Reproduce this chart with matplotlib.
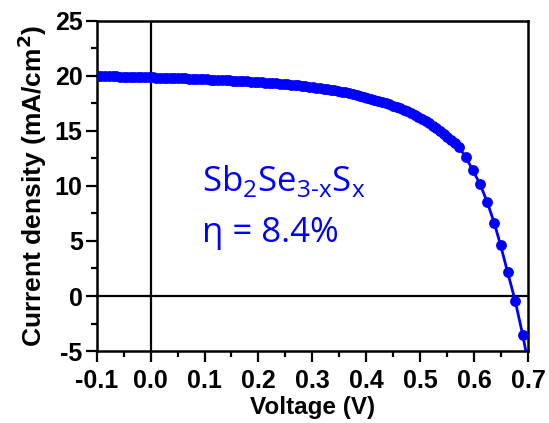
import numpy as np
import matplotlib
matplotlib.use("Agg")
import matplotlib.pyplot as plt
from matplotlib.ticker import MultipleLocator

# J-V sweep of the Sb2Se3-xSx device (dense steps up to the knee)
voltage = [-0.104, -0.097, -0.091, -0.084, -0.077, -0.070, -0.064, -0.057,
           -0.050, -0.043, -0.037, -0.030, -0.023, -0.017, -0.010, -0.003,
           0.004, 0.010, 0.017, 0.024, 0.031, 0.037, 0.044, 0.051,
           0.058, 0.064, 0.071, 0.078, 0.085, 0.091, 0.098, 0.105,
           0.112, 0.118, 0.125, 0.132, 0.139, 0.145, 0.152, 0.159,
           0.166, 0.172, 0.179, 0.186, 0.193, 0.199, 0.206, 0.213,
           0.220, 0.226, 0.233, 0.240, 0.247, 0.253, 0.260, 0.267,
           0.274, 0.280, 0.287, 0.294, 0.301, 0.307, 0.314, 0.321,
           0.328, 0.334, 0.341, 0.348, 0.355, 0.361, 0.368, 0.375,
           0.382, 0.388, 0.395, 0.402, 0.409, 0.415, 0.422, 0.429,
           0.436, 0.442, 0.449, 0.456, 0.463, 0.469, 0.476, 0.483,
           0.490, 0.496, 0.503, 0.510, 0.517, 0.523, 0.530, 0.537,
           0.544, 0.550, 0.557, 0.564, 0.571,
           0.584, 0.597, 0.611, 0.624, 0.637, 0.649, 0.662, 0.676,
           0.690, 0.703]
current = [19.97, 19.965, 19.96, 19.955, 19.95, 19.945, 19.94, 19.93,
           19.92, 19.915, 19.91, 19.90, 19.89, 19.88, 19.87, 19.86,
           19.85, 19.84, 19.83, 19.82, 19.81, 19.80, 19.79, 19.78,
           19.77, 19.76, 19.75, 19.735, 19.72, 19.705, 19.69, 19.675,
           19.66, 19.645, 19.63, 19.615, 19.60, 19.585, 19.57, 19.55,
           19.53, 19.51, 19.49, 19.47, 19.45, 19.43, 19.41, 19.385,
           19.36, 19.335, 19.31, 19.28, 19.25, 19.22, 19.19, 19.155,
           19.12, 19.085, 19.05, 19.01, 18.97, 18.925, 18.88, 18.83,
           18.78, 18.725, 18.67, 18.61, 18.55, 18.485, 18.42, 18.345,
           18.27, 18.19, 18.11, 18.02, 17.93, 17.835, 17.74, 17.635,
           17.53, 17.415, 17.30, 17.175, 17.05, 16.91, 16.77, 16.61,
           16.45, 16.275, 16.10, 15.90, 15.70, 15.475, 15.25, 15.00,
           14.75, 14.475, 14.20, 13.875, 13.55,
           12.66, 11.45, 10.15, 8.55, 6.66, 4.60, 2.15, -0.43,
           -3.55, -6.80]

x_ticks = [-0.1, 0.0, 0.1, 0.2, 0.3, 0.4, 0.5, 0.6, 0.7]
y_ticks = [-5, 0, 5, 10, 15, 20, 25]

plt.rcParams['font.family'] = ['Liberation Sans', 'DejaVu Sans']
plt.rcParams['axes.unicode_minus'] = False
plt.rcParams['mathtext.fontset'] = 'custom'
plt.rcParams['mathtext.rm'] = 'Open Sans'

fig = plt.figure(figsize=(5.49, 4.23), dpi=100)
ax = fig.add_axes([0.176, 0.170, 0.786, 0.781])

ax.axhline(0, color='black', lw=1.6, zorder=1)
ax.axvline(0, color='black', lw=1.6, zorder=1)
ax.plot(voltage, current, color='#0000ff', lw=2, marker='o', ms=7.8,
        markeredgewidth=0, zorder=3, clip_on=True)

ax.set_xlim(-0.1, 0.7)
ax.set_ylim(-5, 25)
ax.set_xticks(x_ticks)
ax.set_yticks(y_ticks)
ax.set_xticklabels(['%.1f' % v for v in x_ticks])
ax.xaxis.set_minor_locator(MultipleLocator(0.05))
ax.yaxis.set_minor_locator(MultipleLocator(2.5))
ax.tick_params(which='major', direction='out', length=8, width=1.6,
               labelsize=18)
ax.tick_params(axis='x', which='major', pad=5)
ax.tick_params(axis='y', which='major', pad=2)
ax.tick_params(which='minor', direction='out', length=4.5, width=1.6)
for lab in ax.get_xticklabels() + ax.get_yticklabels():
    lab.set_fontweight('bold')
for sp in ax.spines.values():
    sp.set_linewidth(1.8)

ax.set_xlabel('Voltage (V)', fontsize=17.5, fontweight='bold', labelpad=2)
ax.set_ylabel('Current density (mA/cm$^\\mathbf{2}$)', fontsize=19,
              fontweight='bold', labelpad=4)

ax.text(0.095, 9.5, r'Sb$_\mathregular{2}$Se$_\mathregular{3\text{-}x}$S$_\mathregular{x}$',
        color='#0000ff', fontsize=25, family=['Open Sans', 'DejaVu Sans'])
ax.text(0.095, 4.9, '\u03b7 = 8.4%', color='#0000ff', fontsize=25,
        family=['Open Sans', 'DejaVu Sans'])

fig.savefig('out.png', dpi=100)
